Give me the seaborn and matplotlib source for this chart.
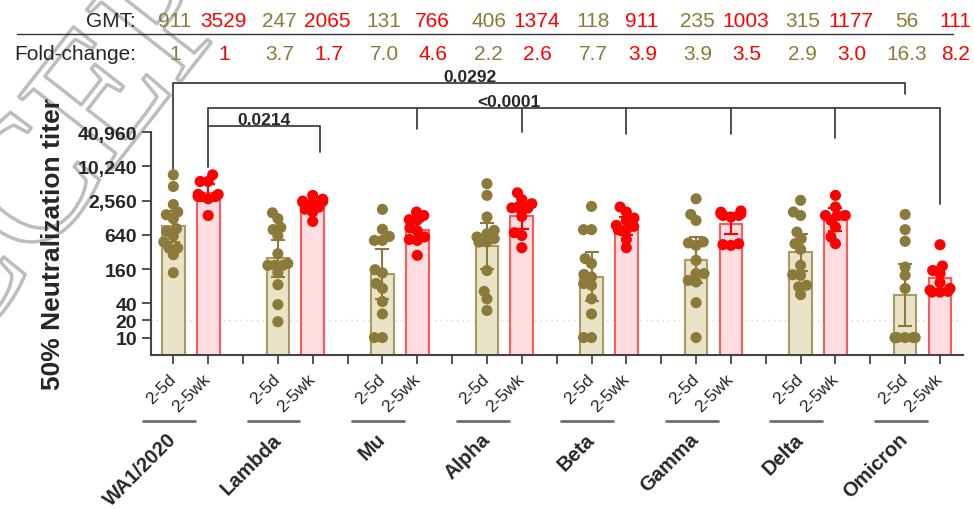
import numpy as np
import pandas as pd
import matplotlib
matplotlib.use("Agg")
import matplotlib.pyplot as plt
import matplotlib.transforms as mtransforms
import matplotlib.patheffects as pe
from matplotlib.lines import Line2D
import seaborn as sns

# variants and time points
variants = ["WA1/2020", "Lambda", "Mu", "Alpha", "Beta", "Gamma", "Delta", "Omicron"]
timepoints = ["2-5d", "2-5wk"]

# GMT and fold-change rows printed above the plot
gmt_5d = [911, 247, 131, 406, 118, 235, 315, 56]
gmt_5wk = [3529, 2065, 766, 1374, 911, 1003, 1177, 111]
fold_5d = ["1", "3.7", "7.0", "2.2", "7.7", "3.9", "2.9", "16.3"]
fold_5wk = ["1", "1.7", "4.6", "2.6", "3.9", "3.5", "3.0", "8.2"]

# individual titers
wa1_5d = [7240, 4520, 2180, 1610, 1440, 1230, 820, 735, 610, 480, 375, 375, 286, 138]
wa1_5wk = [7240, 5540, 5540, 3280, 3280, 3020, 3020, 3020, 2750, 1400]
lambda_5d = [1560, 1230, 860, 790, 610, 298, 200, 186, 186, 186, 138, 85, 38, 19]
lambda_5wk = [3150, 2400, 2500, 2700, 2470, 2250, 1800, 1970, 1610, 1100]
mu_5d = [1790, 800, 600, 510, 510, 156, 137, 89, 73, 43, 26, 10, 10]
mu_5wk = [1610, 1400, 1180, 1160, 850, 750, 585, 530, 510, 279]
alpha_5d = [5050, 3150, 1315, 766, 668, 585, 546, 478, 478, 151, 65, 48, 30]
alpha_5wk = [3500, 2670, 2250, 1890, 1840, 1900, 1345, 696, 623, 380]
beta_5d = [2020, 788, 788, 244, 200, 129, 116, 89, 83, 48, 26, 10, 10]
beta_5wk = [1970, 1610, 1260, 1145, 937, 900, 788, 788, 530, 380]
gamma_5d = [2750, 1460, 1145, 480, 459, 417, 228, 133, 133, 101, 95, 41, 10]
gamma_5wk = [1675, 1600, 1500, 1500, 1400, 1400, 1315, 447, 430, 417]
delta_5d = [2580, 1610, 1400, 716, 546, 447, 355, 186, 127, 124, 83, 78, 57]
delta_5wk = [3150, 1970, 1400, 1400, 1400, 1145, 875, 585, 447]
omicron_5d = [1460, 788, 492, 174, 124, 73, 10, 10, 10, 10, 10, 10]
omicron_5wk = [428, 181, 151, 133, 92, 73, 68, 65, 63, 63]

titers_5d = [wa1_5d, lambda_5d, mu_5d, alpha_5d, beta_5d, gamma_5d, delta_5d, omicron_5d]
titers_5wk = [wa1_5wk, lambda_5wk, mu_5wk, alpha_5wk, beta_5wk, gamma_5wk, delta_5wk, omicron_5wk]

ytick_vals = [10, 20, 40, 160, 640, 2560, 10240, 40960]
ytick_labels = ["10", "20", "40", "160", "640", "2,560", "10,240", "40,960"]

# t quantiles (95%, two sided) by degrees of freedom
T95 = {8: 2.306, 9: 2.262, 10: 2.228, 11: 2.201, 12: 2.179, 13: 2.160}

OLIVE = "#8B7A3A"
RED = "#FF0000"
fills = {"2-5d": "#E9E4C8", "2-5wk": "#FFDDE0"}
edges = {"2-5d": "#A89A62", "2-5wk": "#FF5A5A"}
dots = {"2-5d": OLIVE, "2-5wk": RED}


def swarm_x(vals, diam=8.0, half=10.0, px_oct=17.15, px_slot=34.85):
    # small beeswarm in pixel units, returns offsets in slot units
    ys = px_oct * np.log2(np.asarray(vals, float))
    xs = np.zeros(len(ys))
    placed = []
    for i in np.argsort(ys):
        y = ys[i]
        near = [(px, py) for px, py in placed if abs(py - y) < diam]
        cands = [0.0]
        for px, py in near:
            dx = np.sqrt(diam ** 2 - (py - y) ** 2)
            cands += [px - dx, px + dx]
        best = cands[-1]
        for c in sorted(cands, key=abs):
            if all((c - px) ** 2 + (y - py) ** 2 >= diam ** 2 - 1e-6 for px, py in near):
                best = c
                break
        best = float(np.clip(best, -half, half))
        xs[i] = best
        placed.append((best, y))
    return xs / px_slot


# categorical order with an empty slot between variants
order = []
for i, v in enumerate(variants):
    order += [v + " 2-5d", v + " 2-5wk"]
    if i < len(variants) - 1:
        order.append("gap%d" % i)

rows, bars = [], []
for v, a, b, ga, gb in zip(variants, titers_5d, titers_5wk, gmt_5d, gmt_5wk):
    for t, vals, g in (("2-5d", a, ga), ("2-5wk", b, gb)):
        slot = v + " " + t
        offs = swarm_x(vals)
        for val, o in zip(vals, offs):
            rows.append({"slot": slot, "time": t, "titer": val, "xpos": order.index(slot) + o})
        bars.append({"slot": slot, "time": t, "gmt": g, "n": len(vals),
                     "sd": np.std(np.log2(vals), ddof=1)})
pts = pd.DataFrame(rows)
bar_df = pd.DataFrame(bars)

sns.set_style("ticks")
plt.rcParams["font.family"] = ["Liberation Sans", "DejaVu Sans"]

fig = plt.figure(figsize=(9.74, 5.10), dpi=100)

# outlined watermark behind everything
fig.text(-0.123, 0.084, "ACCEPTED", rotation=52, rotation_mode="anchor", ha="left",
         va="baseline", fontsize=130, family="Liberation Serif", color="none", zorder=-1,
         path_effects=[pe.Stroke(linewidth=2.5, foreground="#bdbdbd")])

ax = fig.add_axes([0.1547, 0.3025, 0.834, 0.4367])
ax.patch.set_alpha(0)
ax.set_yscale("log", base=2)

for t in timepoints:
    sub = bar_df[bar_df["time"] == t]
    sns.barplot(data=sub, x="slot", y="gmt", order=order, color=fills[t], saturation=1,
                errorbar=None, width=0.65, edgecolor=edges[t], linewidth=1.5, ax=ax, zorder=1)

ax.axhline(20, color="#d4d4d4", lw=1, ls=(0, (1, 3)), zorder=0.5)

sns.scatterplot(data=pts, x="xpos", y="titer", hue="time", palette=dots, s=64,
                linewidth=0, legend=False, ax=ax, zorder=3)

# 95% CI of the geometric mean
for t in timepoints:
    sub = bar_df[bar_df["time"] == t]
    xpos = [order.index(s) for s in sub["slot"]]
    half = np.array([T95[n - 1] for n in sub["n"]]) * sub["sd"].values / np.sqrt(sub["n"].values)
    g = sub["gmt"].values
    lo, hi = g / 2 ** half, g * 2 ** half
    ax.errorbar(xpos, g, yerr=[g - lo, hi - g], fmt="none", ecolor=dots[t],
                elinewidth=1.5, capsize=5, capthick=1.5, zorder=4)

ax.set_ylim(5, 40960)
ax.set_xlim(-0.65, len(order) - 1 + 0.66)
ax.set_yticks(ytick_vals)
ax.set_yticklabels(ytick_labels, fontsize=14, fontweight="bold")
ax.minorticks_off()
ax.set_xticks(range(len(order)))
ax.set_xticklabels(["" if s.startswith("gap") else s.split(" ")[-1] for s in order],
                   rotation=45, ha="right", va="center", rotation_mode="anchor", fontsize=12.5)
shift = mtransforms.ScaledTranslation(4 / 100, 0, fig.dpi_scale_trans)
for lab in ax.get_xticklabels():
    lab.set_transform(lab.get_transform() + shift)
ax.tick_params(axis="y", length=6.5, width=1.3, pad=3.4, color="#444444")
ax.tick_params(axis="x", length=6.5, width=1.3, pad=8.9, color="#444444")
ax.set_xlabel("")
ax.set_ylabel("50% Neutralization titer", fontsize=19, fontweight="bold")
ax.yaxis.set_label_coords(-0.1055, 0.5)
sns.despine(ax=ax)
for sp in ("left", "bottom"):
    ax.spines[sp].set_color("#444444")
    ax.spines[sp].set_linewidth(1.5)


def fy(px):
    return 1 - px / 510


trans = mtransforms.blended_transform_factory(ax.transData, fig.transFigure)

# GMT / fold-change rows
fig.text(136 / 974, fy(27), "GMT:", ha="right", va="baseline", fontsize=15)
fig.text(136 / 974, fy(60), "Fold-change:", ha="right", va="baseline", fontsize=15)
fig.add_artist(Line2D([17 / 974, 953 / 974], [fy(35), fy(35)], color="#333333", lw=1))
for i in range(len(variants)):
    x0 = order.index(variants[i] + " 2-5d")
    ax.text(x0 + 0.05, fy(27), str(gmt_5d[i]), transform=trans, ha="center", va="baseline",
            fontsize=15, color=OLIVE)
    ax.text(x0 + 1.43, fy(27), str(gmt_5wk[i]), transform=trans, ha="center", va="baseline",
            fontsize=15, color=RED)
    ax.text(x0 + 0.05, fy(60), fold_5d[i], transform=trans, ha="center", va="baseline",
            fontsize=15, color=OLIVE)
    ax.text(x0 + 1.46, fy(60), fold_5wk[i], transform=trans, ha="center", va="baseline",
            fontsize=15, color=RED)
    # variant name and underline
    ax.text(x0, fy(437), variants[i], transform=trans, rotation=45, rotation_mode="anchor",
            ha="right", va="center", fontsize=14.5, fontweight="bold")
    ax.plot([x0 - 0.87, x0 + 0.62], [fy(421.7)] * 2, transform=trans, color="#6e6e6e",
            lw=2, clip_on=False)

# significance brackets
bk = dict(transform=trans, color="#404040", lw=1.3, clip_on=False)
s_wa1_d = order.index("WA1/2020 2-5d")
s_wa1_w = order.index("WA1/2020 2-5wk")
s_om_d = order.index("Omicron 2-5d")
s_om_w = order.index("Omicron 2-5wk")
s_lam_w = order.index("Lambda 2-5wk")

ax.plot([s_wa1_d, s_wa1_d, s_om_d, s_om_d], [fy(170), fy(84), fy(84), fy(95)], **bk)
ax.text(8.5, fy(82), "0.0292", transform=trans, ha="center", va="baseline",
        fontsize=12.5, fontweight="bold")

ax.plot([s_wa1_w, s_wa1_w, s_om_w, s_om_w], [fy(168), fy(109), fy(109), fy(205)], **bk)
drops = {"Mu": 130, "Alpha": 133, "Beta": 135, "Gamma": 135, "Delta": 139}
for v, yb in drops.items():
    s = order.index(v + " 2-5wk")
    ax.plot([s, s], [fy(109), fy(yb)], **bk)
ax.text(9.63, fy(107), "<0.0001", transform=trans, ha="center", va="baseline",
        fontsize=12.5, fontweight="bold")

ax.plot([s_wa1_w, s_lam_w + 0.2, s_lam_w + 0.2], [fy(127), fy(127), fy(153)], **bk)
ax.text(2.6, fy(125), "0.0214", transform=trans, ha="center", va="baseline",
        fontsize=12.5, fontweight="bold")

fig.savefig("out.png", dpi=100)
